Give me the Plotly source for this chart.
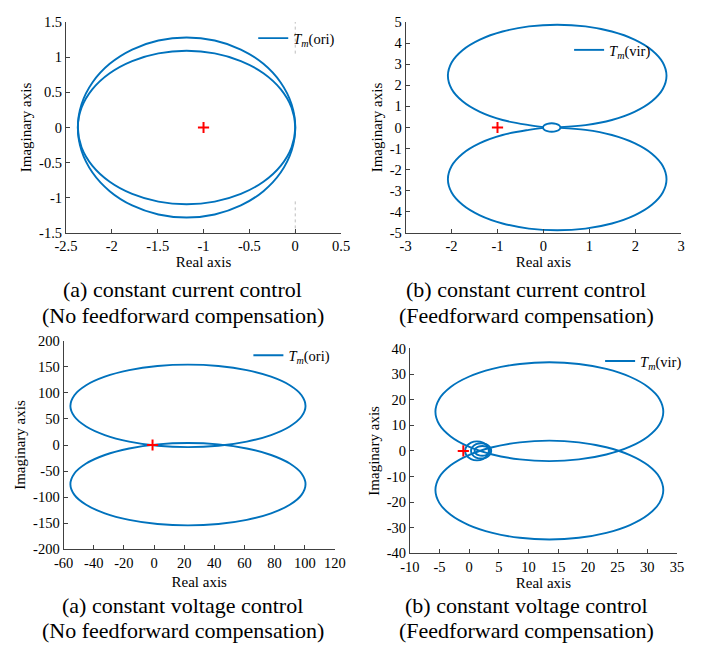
import plotly.graph_objects as go

# ---------------- data ----------------
# Panel 1: constant current, no feed-forward  (upper halves, lower half = conjugate)
p1_x = [0.0, -0.040, -0.159, -0.347, -0.593, -0.878, -1.185, -1.492, -1.778, -2.023, -2.211, -2.330, -2.37]
p1_outer_y = [0.0, 0.331, 0.640, 0.905, 1.108, 1.236, 1.28, 1.236, 1.108, 0.905, 0.640, 0.331, 0.0]
p1_inner_y = [0.0, 0.282, 0.545, 0.771, 0.944, 1.053, 1.09, 1.053, 0.944, 0.771, 0.545, 0.282, 0.0]
p1_guide_x = [0, 0, None, 0, 0]
p1_guide_y = [1.05, 1.5, None, -1.05, -1.5]

# Panel 2: constant current, feed-forward
p2_big_x = [0.37, 0.916, 1.49, 1.983, 2.361, 2.599, 2.68, 2.599, 2.361, 1.983, 1.49, 0.916, 0.3,
            -0.316, -0.89, -1.383, -1.761, -1.999, -2.08, -1.999, -1.761, -1.383, -0.89, -0.316, 0.0]
p2_big_y = [0.02, 0.112, 0.354, 0.739, 1.24, 1.823, 2.45, 3.077, 3.66, 4.161, 4.546, 4.788, 4.87,
            4.788, 4.546, 4.161, 3.66, 3.077, 2.45, 1.823, 1.24, 0.739, 0.354, 0.112, 0.02]
p2_small_x = [0.37, 0.345, 0.275, 0.18, 0.085, 0.015, -0.01]
p2_small_y = [0.0, 0.1, 0.173, 0.2, 0.173, 0.1, 0.0]

# Panel 3: constant voltage, no feed-forward (upper loop; lower loop = conjugate)
p3_x = [100.5, 97.84, 90.05, 77.65, 61.5, 42.69, 22.5, 2.31, -16.5, -32.65, -45.05, -52.84, -55.5,
        -52.84, -45.05, -32.65, -16.5, 2.31, 22.5, 42.69, 61.5, 77.65, 90.05, 97.84, 100.5]
p3_y = [75, 95.45, 114.5, 130.86, 143.41, 151.31, 154, 151.31, 143.41, 130.86, 114.5, 95.45, 75,
        54.55, 35.5, 19.14, 6.59, -1.31, -4, -1.31, 6.59, 19.14, 35.5, 54.55, 75]

# Panel 4: constant voltage, feed-forward
p4_x = [32.7, 32.05, 30.13, 27.08, 23.1, 18.47, 13.5, 8.53, 3.9, -0.08, -3.13, -5.05, -5.7,
        -5.05, -3.13, -0.08, 3.9, 8.53, 13.5, 18.47, 23.1, 27.08, 30.13, 32.05, 32.7]
p4_y = [15.3, 20.3, 24.95, 28.95, 32.01, 33.94, 34.6, 33.94, 32.01, 28.95, 24.95, 20.3, 15.3,
        10.3, 5.65, 1.65, -1.41, -3.34, -4.0, -3.34, -1.41, 1.65, 5.65, 10.3, 15.3]
p4_loop1_x = [3.3, 3.03, 2.3, 1.3, 0.3, -0.43, -0.7]
p4_loop1_y = [0.0, 1.85, 3.2, 3.7, 3.2, 1.85, 0.0]
p4_loop2_x = [3.7, 3.47, 2.85, 2.0, 1.15, 0.53, 0.3]
p4_loop2_y = [0.0, 1.5, 2.6, 3.0, 2.6, 1.5, 0.0]
p4_loop3_x = [3.5, 3.33, 2.85, 2.2, 1.55, 1.07, 0.9]
p4_loop3_y = [0.0, 0.95, 1.65, 1.9, 1.65, 0.95, 0.0]

crit_x = [-1]
crit_y = [0]

legend_names = ["<i>T</i><sub><i>m</i></sub>(ori)", "<i>T</i><sub><i>m</i></sub>(vir)",
                "<i>T</i><sub><i>m</i></sub>(ori)", "<i>T</i><sub><i>m</i></sub>(vir)"]

p1_xticks = [-2.5, -2, -1.5, -1, -0.5, 0, 0.5]
p1_xtext = ["-2.5", "-2", "-1.5", "-1", "-0.5", "0", "0.5"]
p1_yticks = [-1.5, -1, -0.5, 0, 0.5, 1, 1.5]
p1_ytext = ["-1.5", "-1", "-0.5", "0", "0.5", "1", "1.5"]
p2_xticks = [-3, -2, -1, 0, 1, 2, 3]
p2_xtext = ["-3", "-2", "-1", "0", "1", "2", "3"]
p2_yticks = [-5, -4, -3, -2, -1, 0, 1, 2, 3, 4, 5]
p2_ytext = ["-5", "-4", "-3", "-2", "-1", "0", "1", "2", "3", "4", "5"]
p3_xticks = [-60, -40, -20, 0, 20, 40, 60, 80, 100, 120]
p3_xtext = ["-60", "-40", "-20", "0", "20", "40", "60", "80", "100", "120"]
p3_yticks = [-200, -150, -100, -50, 0, 50, 100, 150, 200]
p3_ytext = ["-200", "-150", "-100", "-50", "0", "50", "100", "150", "200"]
p4_xticks = [-10, -5, 0, 5, 10, 15, 20, 25, 30, 35]
p4_xtext = ["-10", "-5", "0", "5", "10", "15", "20", "25", "30", "35"]
p4_yticks = [-40, -30, -20, -10, 0, 10, 20, 30, 40]
p4_ytext = ["-40", "-30", "-20", "-10", "0", "10", "20", "30", "40"]

captions = [
    ("(a) constant current control", "(No feedforward compensation)"),
    ("(b) constant current control", "(Feedforward compensation)"),
    ("(a) constant voltage control", "(No feedforward compensation)"),
    ("(b) constant voltage control", "(Feedforward compensation)"),
]

# ---------------- helpers ----------------
def closed_from_half(xs, ys):
    """upper half + its complex conjugate (mirror) -> closed loop"""
    x = list(xs) + list(xs[::-1])[1:]
    y = list(ys) + [-v for v in ys[::-1]][1:]
    return x, y

def conj(xs, ys):
    return list(xs), [-v for v in ys]

def join(*segs):
    X, Y = [], []
    for x, y in segs:
        if X:
            X.append(None); Y.append(None)
        X += x; Y += y
    return X, Y

BLUE = "#0072BD"
FONT = "Liberation Serif"
W, H = 708, 653

curves = [
    join(closed_from_half(p1_x, p1_outer_y), closed_from_half(p1_x, p1_inner_y)),
    join((p2_big_x, p2_big_y), conj(p2_big_x, p2_big_y), closed_from_half(p2_small_x, p2_small_y)),
    join((p3_x, p3_y), conj(p3_x, p3_y)),
    join((p4_x, p4_y), conj(p4_x, p4_y), closed_from_half(p4_loop1_x, p4_loop1_y),
         closed_from_half(p4_loop2_x, p4_loop2_y), closed_from_half(p4_loop3_x, p4_loop3_y)),
]

# plot-area boxes in pixels: (left, right, top, bottom)
boxes = [(56.7, 340.7, 14.3, 230.7), (407.3, 691.7, 14.3, 230.7),
         (54.3, 334.3, 341, 555), (411.7, 687.3, 349, 559)]
ranges = [((-2.5, 0.5), (-1.5, 1.5)), ((-3, 3), (-5, 5)),
          ((-60, 120), (-200, 200)), ((-10, 35), (-40, 40))]
ticks = [(p1_xticks, p1_xtext, p1_yticks, p1_ytext), (p2_xticks, p2_xtext, p2_yticks, p2_ytext),
         (p3_xticks, p3_xtext, p3_yticks, p3_ytext), (p4_xticks, p4_xtext, p4_yticks, p4_ytext)]
x_standoff = [2, 2, 6, 2]
legend_pos = [(250, 31), (576, 43), (245, 356), (608, 362)]
caption_pos = [(177, 289, 315), (532, 289, 315), (177, 613, 638), (532, 613, 638)]

fig = go.Figure()
layout = dict(width=W, height=H, margin=dict(l=0, r=0, t=0, b=0),
              paper_bgcolor="white", plot_bgcolor="white", showlegend=True)
annotations = []

for i in range(4):
    n = "" if i == 0 else str(i + 1)
    xa, ya = "x" + n, "y" + n
    lg = "legend" + n
    cx, cy = curves[i]
    fig.add_trace(go.Scatter(x=cx, y=cy, mode="lines", name=legend_names[i],
                             line=dict(color=BLUE, width=1.9, shape="spline", smoothing=1.0),
                             xaxis=xa, yaxis=ya, legend=lg))
    if i == 0:
        fig.add_trace(go.Scatter(x=p1_guide_x, y=p1_guide_y, mode="lines", showlegend=False,
                                 line=dict(color="#bdbdbd", width=1, dash="dot"),
                                 xaxis=xa, yaxis=ya, hoverinfo="skip"))
    fig.add_trace(go.Scatter(x=crit_x, y=crit_y, mode="markers", showlegend=False,
                             marker=dict(symbol="cross-thin", size=8, color="red",
                                         line=dict(color="red", width=2)),
                             xaxis=xa, yaxis=ya))
    l, r, t, b = boxes[i]
    (x0, x1), (y0, y1) = ranges[i]
    xt, xtt, yt, ytt = ticks[i]
    axis_common = dict(showline=True, linecolor="#404040", linewidth=1, mirror=False,
                       ticks="inside", ticklen=4, tickcolor="#404040", showgrid=False,
                       zeroline=False, tickmode="array",
                       tickfont=dict(family=FONT, size=14.5, color="black"))
    layout["xaxis" + n] = dict(domain=[l / W, r / W], range=[x0, x1], anchor=ya,
                               tickvals=xt, ticktext=xtt,
                               title=dict(text="Real axis", standoff=x_standoff[i],
                                          font=dict(family=FONT, size=15, color="black")),
                               **axis_common)
    layout["yaxis" + n] = dict(domain=[1 - b / H, 1 - t / H], range=[y0, y1], anchor=xa,
                               tickvals=yt, ticktext=ytt,
                               title=dict(text="Imaginary axis", standoff=3,
                                          font=dict(family=FONT, size=15, color="black")),
                               **axis_common)
    lx, ly = legend_pos[i]
    layout[lg] = dict(x=lx / W, y=1 - ly / H, xanchor="left", yanchor="middle",
                      bgcolor="rgba(0,0,0,0)", borderwidth=0,
                      font=dict(family=FONT, size=14.5, color="black"))
    capx, capy1, capy2 = caption_pos[i]
    for txt, yy in zip(captions[i], (capy1, capy2)):
        annotations.append(dict(text=txt, x=capx / W, y=1 - yy / H, xref="paper", yref="paper",
                                xanchor="center", yanchor="middle", showarrow=False,
                                font=dict(family=FONT, size=22, color="black")))

layout["annotations"] = annotations
fig.update_layout(**layout)
fig.write_html("out.html")
